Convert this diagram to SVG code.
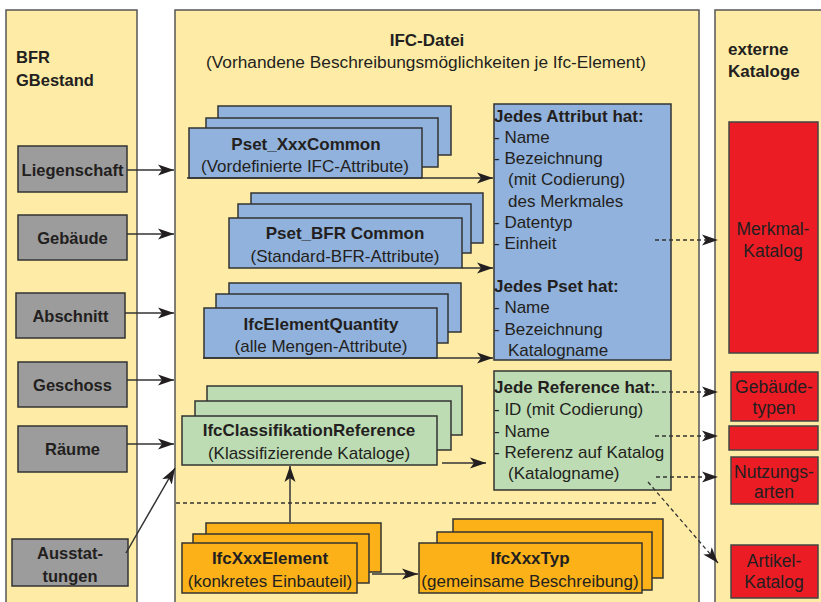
<svg xmlns="http://www.w3.org/2000/svg" width="821" height="602" viewBox="0 0 821 602">
<defs>
<style>
text{font-family:"Liberation Sans",Arial,sans-serif;fill:#231f20;font-size:17px}
.b{font-weight:bold}
.c{text-anchor:middle}
.g{font-size:16.5px}
.r{font-size:17.5px}
.panel{fill:#feeca6;stroke:#555;stroke-width:1.5}
.gray{fill:#9c9c9c;stroke:#333;stroke-width:1.5}
.blue{fill:#91b2dc;stroke:#333;stroke-width:1.5}
.green{fill:#bddcb3;stroke:#333;stroke-width:1.5}
.orange{fill:#fbb117;stroke:#333;stroke-width:1.5}
.red{fill:#ec1c24;stroke:#444;stroke-width:1.5}
.ln{fill:none;stroke:#333;stroke-width:1.5}
.dl{fill:none;stroke:#333;stroke-width:1.3;stroke-dasharray:4 3}
</style>
<marker id="ah" markerUnits="userSpaceOnUse" markerWidth="17" markerHeight="12" refX="16" refY="6" orient="auto">
<path d="M0,0.5 L16,6 L0,11.5 L4,6 z" fill="#231f20"/>
</marker>
</defs>
<rect width="821" height="602" fill="#fff"/>

<g id="panel-bfr">
<rect class="panel" x="6" y="10" width="131" height="600"/>
<text class="b g" x="16" y="63">BFR</text>
<text class="b g" x="16" y="86">GBestand</text>
</g>
<g id="panel-ifc">
<rect class="panel" x="175" y="10" width="524" height="600"/>
<text class="b c" x="427" y="46">IFC-Datei</text>
<text class="c" x="426" y="68" style="font-size:17.3px">(Vorhandene Beschreibungsmöglichkeiten je Ifc-Element)</text>
</g>
<g id="panel-ext">
<rect class="panel" x="715" y="10" width="120" height="600"/>
<text class="b" x="728" y="55">externe</text>
<text class="b" x="728" y="77">Kataloge</text>
</g>

<g id="liegenschaft"><rect class="gray" x="18" y="146" width="109" height="46"/><text class="b c g" x="72.5" y="176">Liegenschaft</text></g>
<g id="gebaeude"><rect class="gray" x="18" y="215" width="109" height="45"/><text class="b c g" x="72.5" y="244">Gebäude</text></g>
<g id="abschnitt"><rect class="gray" x="16" y="293" width="109" height="45"/><text class="b c g" x="70.5" y="322">Abschnitt</text></g>
<g id="geschoss"><rect class="gray" x="18" y="362" width="109" height="45"/><text class="b c g" x="72.5" y="391">Geschoss</text></g>
<g id="raeume"><rect class="gray" x="18" y="426" width="109" height="46"/><text class="b c g" x="72.5" y="455">Räume</text></g>
<g id="ausstattungen"><rect class="gray" x="12" y="539" width="116" height="47"/><text class="b c g" x="70" y="559">Ausstat-</text><text class="b c g" x="70" y="582">tungen</text></g>

<g id="pset-xxx">
<rect class="blue" x="218" y="106" width="233" height="49"/>
<rect class="blue" x="206" y="118" width="232" height="49"/>
<rect class="blue" x="189" y="128" width="233" height="50"/>
<text class="b c" x="306" y="150">Pset_XxxCommon</text>
<text class="c" x="305" y="172">(Vordefinierte IFC-Attribute)</text>
</g>
<g id="pset-bfr">
<rect class="blue" x="251" y="193" width="232" height="50"/>
<rect class="blue" x="238" y="204" width="233" height="49"/>
<rect class="blue" x="229" y="218" width="233" height="50"/>
<text class="b c" x="345" y="239">Pset_BFR Common</text>
<text class="c" x="345" y="262">(Standard-BFR-Attribute)</text>
</g>
<g id="ifc-quantity">
<rect class="blue" x="229" y="283" width="232" height="49"/>
<rect class="blue" x="216" y="294" width="232" height="49"/>
<rect class="blue" x="204" y="308" width="233" height="50"/>
<text class="b c" x="321" y="330">IfcElementQuantity</text>
<text class="c" x="321" y="352">(alle Mengen-Attribute)</text>
</g>

<g id="attribut-info">
<rect class="blue" x="494" y="104" width="177" height="256"/>
<text class="b" x="494" y="122">Jedes Attribut hat:</text>
<text x="494" y="143">- Name</text>
<text x="494" y="164">- Bezeichnung</text>
<text x="508" y="185">(mit Codierung)</text>
<text x="508" y="207">des Merkmales</text>
<text x="494" y="228">- Datentyp</text>
<text x="494" y="249">- Einheit</text>
<text class="b" x="494" y="292">Jedes Pset hat:</text>
<text x="494" y="313">- Name</text>
<text x="494" y="335">- Bezeichnung</text>
<text x="508" y="356">Katalogname</text>
</g>

<g id="classification">
<rect class="green" x="207" y="386" width="255" height="49"/>
<rect class="green" x="195" y="401" width="256" height="49"/>
<rect class="green" x="182" y="416" width="255" height="49"/>
<text class="b c" x="309" y="436">IfcClassifikationReference</text>
<text class="c" x="309" y="459">(Klassifizierende Kataloge)</text>
</g>

<g id="reference-info">
<rect class="green" x="494" y="371" width="177" height="119"/>
<text class="b" x="494" y="393">Jede Reference hat:</text>
<text x="494" y="415">- ID (mit Codierung)</text>
<text x="494" y="437">- Name</text>
<text x="494" y="458">- Referenz auf Katalog</text>
<text x="508" y="479">(Katalogname)</text>
</g>

<g id="ifc-element">
<rect class="orange" x="206" y="523" width="175" height="49"/>
<rect class="orange" x="193" y="534" width="176" height="49"/>
<rect class="orange" x="182" y="543" width="175" height="50"/>
<text class="b c" x="270" y="564">IfcXxxElement</text>
<text class="c" x="270" y="587">(konkretes Einbauteil)</text>
</g>
<g id="ifc-typ">
<rect class="orange" x="453" y="519" width="210" height="59"/>
<rect class="orange" x="437" y="532" width="215" height="58"/>
<rect class="orange" x="419" y="543" width="223" height="50"/>
<text class="b c" x="530" y="564">IfcXxxTyp</text>
<text class="c" x="530" y="587">(gemeinsame Beschreibung)</text>
</g>

<g id="merkmal-katalog"><rect class="red" x="729" y="122" width="89" height="231"/><text class="c r" x="773" y="235">Merkmal-</text><text class="c r" x="773" y="257">Katalog</text></g>
<g id="gebaeudetypen"><rect class="red" x="731" y="372" width="87" height="49"/><text class="c r" x="774" y="393">Gebäude-</text><text class="c r" x="774" y="414">typen</text></g>
<g id="leer-katalog"><rect class="red" x="729" y="426" width="89" height="24"/></g>
<g id="nutzungsarten"><rect class="red" x="731" y="457" width="87" height="47"/><text class="c r" x="774" y="478">Nutzungs-</text><text class="c r" x="774" y="498">arten</text></g>
<g id="artikel-katalog"><rect class="red" x="731" y="545" width="87" height="53"/><text class="c r" x="774" y="567">Artikel-</text><text class="c r" x="774" y="588">Katalog</text></g>

<g id="connectors">
<line class="ln" x1="127" y1="170" x2="174" y2="170" marker-end="url(#ah)"/>
<line class="ln" x1="127" y1="234" x2="174" y2="234" marker-end="url(#ah)"/>
<line class="ln" x1="125" y1="313" x2="174" y2="313" marker-end="url(#ah)"/>
<line class="ln" x1="127" y1="380" x2="174" y2="380" marker-end="url(#ah)"/>
<line class="ln" x1="127" y1="444" x2="174" y2="444" marker-end="url(#ah)"/>
<line class="ln" x1="126" y1="553" x2="175" y2="468" marker-end="url(#ah)"/>
<line class="ln" x1="187" y1="178" x2="493" y2="178" marker-end="url(#ah)"/>
<line class="ln" x1="462" y1="268" x2="493" y2="268" marker-end="url(#ah)"/>
<line class="ln" x1="203" y1="358" x2="493" y2="358" marker-end="url(#ah)"/>
<line class="ln" x1="442" y1="463" x2="486" y2="463" marker-end="url(#ah)"/>
<line class="ln" x1="290" y1="522" x2="290" y2="466" marker-end="url(#ah)"/>
<line class="ln" x1="372" y1="574" x2="418" y2="574" marker-end="url(#ah)"/>
<line class="dl" x1="176" y1="503" x2="657" y2="503"/>
<line class="dl" x1="655" y1="240" x2="718" y2="240" marker-end="url(#ah)"/>
<line class="dl" x1="655" y1="392" x2="718" y2="392" marker-end="url(#ah)"/>
<line class="dl" x1="655" y1="436" x2="718" y2="436" marker-end="url(#ah)"/>
<line class="dl" x1="656" y1="477" x2="718" y2="477" marker-end="url(#ah)"/>
<line class="dl" x1="648" y1="482" x2="718" y2="563" marker-end="url(#ah)"/>
</g>
</svg>
